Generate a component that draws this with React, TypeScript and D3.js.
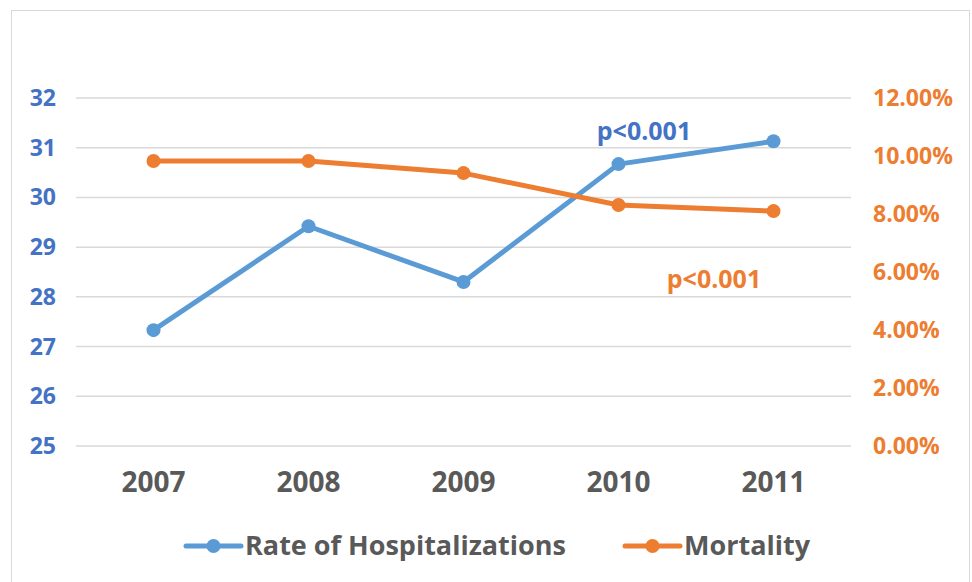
import React, { useEffect, useRef } from 'react';
import * as d3 from 'd3';

const years = ['2007', '2008', '2009', '2010', '2011'];
const hospitalizations = [27.33, 29.42, 28.3, 30.67, 31.13];
const mortality = [0.0983, 0.0983, 0.0941, 0.0831, 0.081];
const leftTicks = [25, 26, 27, 28, 29, 30, 31, 32];
const rightTicks = [0, 0.02, 0.04, 0.06, 0.08, 0.1, 0.12];

const BLUE = '#5B9BD5';
const ORANGE = '#ED7D31';
const AXIS_BLUE = '#4472C4';
const GRAY_TEXT = '#595959';
const GRID = '#D9D9D9';
const FONT = '"Open Sans", "Noto Sans", sans-serif';

const App: React.FC = () => {
  const svgRef = useRef<SVGSVGElement>(null);

  useEffect(() => {
    if (!svgRef.current) return;
    const svg = d3.select(svgRef.current);
    svg.selectAll('*').remove();

    const H = 582;
    const plot = { left: 76, right: 851, top: 98, bottom: 446 };

    // chart frame
    svg.append('rect')
      .attr('x', 11.5).attr('y', 10.5)
      .attr('width', 958).attr('height', H)
      .attr('fill', 'white').attr('stroke', GRID).attr('stroke-width', 1);

    const x = d3.scaleBand().domain(years).range([plot.left, plot.right]);
    const yLeft = d3.scaleLinear().domain([25, 32]).range([plot.bottom, plot.top]);
    const yRight = d3.scaleLinear().domain([0, 0.12]).range([plot.bottom, plot.top]);
    const cx = (d: string) => (x(d) || 0) + x.bandwidth() / 2;

    // gridlines
    svg.append('g')
      .selectAll('line')
      .data(leftTicks)
      .join('line')
        .attr('x1', plot.left).attr('x2', plot.right)
        .attr('y1', d => yLeft(d)).attr('y2', d => yLeft(d))
        .attr('stroke', GRID).attr('stroke-width', 1.5);

    // left axis labels
    svg.append('g')
      .selectAll('text')
      .data(leftTicks)
      .join('text')
        .attr('x', 56).attr('y', d => yLeft(d))
        .attr('dy', '0.35em')
        .attr('text-anchor', 'end')
        .attr('font-family', FONT).attr('font-weight', 700).attr('font-size', 23)
        .attr('fill', AXIS_BLUE)
        .text(d => d);

    // right axis labels
    svg.append('g')
      .selectAll('text')
      .data(rightTicks)
      .join('text')
        .attr('x', 873).attr('y', d => yRight(d))
        .attr('dy', '0.35em')
        .attr('text-anchor', 'start')
        .attr('font-family', FONT).attr('font-weight', 700).attr('font-size', 23)
        .attr('fill', ORANGE)
        .text(d => d3.format('.2%')(d));

    // x labels
    svg.append('g')
      .selectAll('text')
      .data(years)
      .join('text')
        .attr('x', d => cx(d)).attr('y', 482)
        .attr('dy', '0.35em')
        .attr('text-anchor', 'middle')
        .attr('font-family', FONT).attr('font-weight', 700).attr('font-size', 28)
        .attr('fill', GRAY_TEXT)
        .text(d => d);

    // series
    const series = [
      { values: hospitalizations, y: yLeft, color: BLUE },
      { values: mortality, y: yRight, color: ORANGE },
    ];
    series.forEach(s => {
      const line = d3.line<number>()
        .x((_, i) => cx(years[i]))
        .y(d => s.y(d));
      svg.append('path')
        .datum(s.values)
        .attr('d', line)
        .attr('fill', 'none')
        .attr('stroke', s.color).attr('stroke-width', 5)
        .attr('stroke-linejoin', 'round');
      svg.append('g')
        .selectAll('circle')
        .data(s.values)
        .join('circle')
          .attr('cx', (_, i) => cx(years[i]))
          .attr('cy', d => s.y(d))
          .attr('r', 7)
          .attr('fill', s.color);
    });

    // annotations
    svg.append('text')
      .attr('x', 644).attr('y', 131).attr('dy', '0.35em')
      .attr('text-anchor', 'middle')
      .attr('font-family', FONT).attr('font-weight', 700).attr('font-size', 25)
      .attr('fill', AXIS_BLUE)
      .text('p<0.001');
    svg.append('text')
      .attr('x', 714).attr('y', 279).attr('dy', '0.35em')
      .attr('text-anchor', 'middle')
      .attr('font-family', FONT).attr('font-weight', 700).attr('font-size', 25)
      .attr('fill', ORANGE)
      .text('p<0.001');

    // legend
    const legendItems = [
      { label: 'Rate of Hospitalizations', color: BLUE, x0: 186 },
      { label: 'Mortality', color: ORANGE, x0: 625 },
    ];
    const legend = svg.append('g')
      .selectAll('g')
      .data(legendItems)
      .join('g')
        .attr('transform', d => `translate(${d.x0},546)`);
    legend.append('line')
      .attr('x1', 0).attr('x2', 55)
      .attr('stroke', d => d.color).attr('stroke-width', 5)
      .attr('stroke-linecap', 'round');
    legend.append('circle')
      .attr('cx', 27.5).attr('r', 7)
      .attr('fill', d => d.color);
    legend.append('text')
      .attr('x', 59).attr('dy', '0.35em')
      .attr('font-family', FONT).attr('font-weight', 700).attr('font-size', 27)
      .attr('fill', GRAY_TEXT)
      .text(d => d.label);
  }, []);

  return (
    <svg
      ref={svgRef}
      width={972}
      height={582}
      style={{ position: 'absolute', left: 0, top: 0, display: 'block', background: 'white' }}
    />
  );
};

export default App;
